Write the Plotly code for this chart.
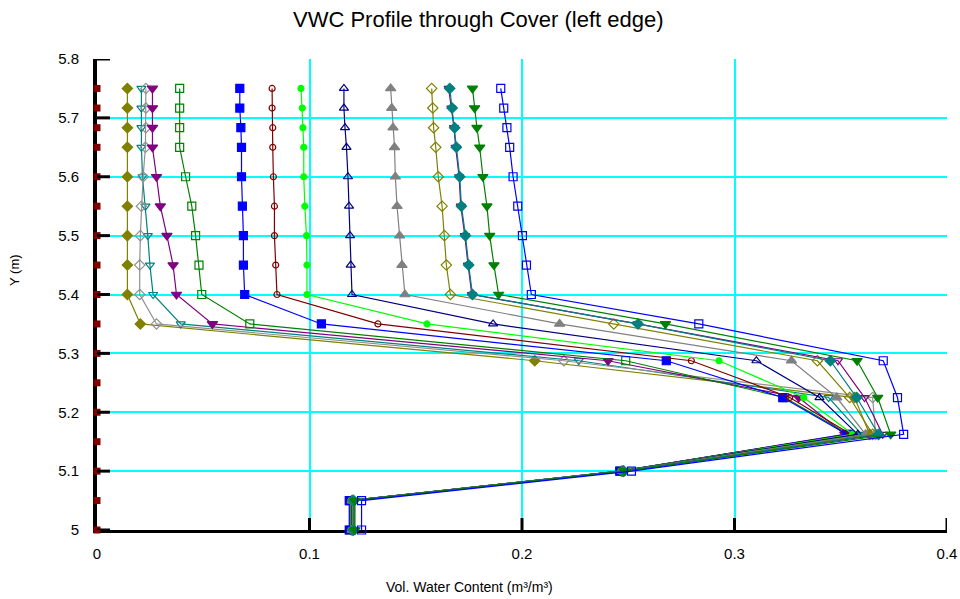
import plotly.graph_objects as go

# Elevation of the profile nodes (m)
elev = [5.75, 5.7167, 5.6833, 5.65, 5.6, 5.55, 5.5, 5.45, 5.4,
        5.35, 5.2875, 5.225, 5.1625, 5.1, 5.05, 5.0]

# Mesh node elevations marked along the left edge (m)
mesh_nodes = [5.75, 5.7167, 5.6833, 5.65, 5.6, 5.55, 5.5, 5.45, 5.4,
              5.35, 5.3, 5.25, 5.2, 5.15, 5.1, 5.05, 5.0]

# Volumetric water content profiles (m3/m3), one list per saved time
vwc_01 = [0.0143, 0.0143, 0.0143, 0.0143, 0.0143, 0.0143, 0.0143, 0.0143, 0.0143,
          0.0204, 0.2060, 0.3565, 0.3636, 0.2470, 0.1200, 0.1200]
vwc_02 = [0.0209, 0.0209, 0.0209, 0.0209, 0.0214, 0.0228, 0.0239, 0.0249, 0.0264,
          0.0394, 0.2267, 0.3443, 0.3599, 0.2472, 0.1197, 0.1197]
vwc_03 = [0.0230, 0.0230, 0.0230, 0.0228, 0.0217, 0.0209, 0.0204, 0.0201, 0.0201,
          0.0280, 0.2197, 0.3650, 0.3664, 0.2478, 0.1205, 0.1205]
vwc_04 = [0.0261, 0.0261, 0.0261, 0.0261, 0.0280, 0.0298, 0.0329, 0.0358, 0.0374,
          0.0543, 0.2405, 0.3302, 0.3519, 0.2466, 0.1195, 0.1195]
vwc_05 = [0.0389, 0.0389, 0.0389, 0.0389, 0.0417, 0.0446, 0.0464, 0.0480, 0.0493,
          0.0719, 0.2488, 0.3236, 0.3537, 0.2462, 0.1190, 0.1190]
vwc_06 = [0.0672, 0.0672, 0.0677, 0.0680, 0.0680, 0.0684, 0.0689, 0.0689, 0.0695,
          0.1056, 0.2679, 0.3227, 0.3528, 0.2460, 0.1187, 0.1187]
vwc_07 = [0.0824, 0.0824, 0.0827, 0.0827, 0.0830, 0.0835, 0.0835, 0.0841, 0.0847,
          0.1322, 0.2797, 0.3260, 0.3547, 0.2463, 0.1193, 0.1193]
vwc_08 = [0.0960, 0.0966, 0.0969, 0.0973, 0.0973, 0.0978, 0.0986, 0.0988, 0.0988,
          0.1553, 0.2927, 0.3326, 0.3556, 0.2465, 0.1195, 0.1195]
vwc_09 = [0.1162, 0.1162, 0.1167, 0.1174, 0.1181, 0.1186, 0.1191, 0.1194, 0.1200,
          0.1864, 0.3103, 0.3400, 0.3580, 0.2468, 0.1198, 0.1198]
vwc_10 = [0.1382, 0.1387, 0.1393, 0.1400, 0.1404, 0.1412, 0.1424, 0.1435, 0.1449,
          0.2177, 0.3268, 0.3481, 0.3617, 0.2472, 0.1201, 0.1201]
vwc_11 = [0.1575, 0.1580, 0.1584, 0.1594, 0.1606, 0.1624, 0.1635, 0.1644, 0.1663,
          0.2432, 0.3390, 0.3542, 0.3650, 0.2475, 0.1204, 0.1204]
vwc_12 = [0.1655, 0.1668, 0.1680, 0.1688, 0.1704, 0.1712, 0.1731, 0.1746, 0.1764,
          0.2543, 0.3487, 0.3612, 0.3697, 0.2480, 0.1210, 0.1210]
vwc_13 = [0.1660, 0.1671, 0.1683, 0.1691, 0.1707, 0.1715, 0.1734, 0.1749, 0.1767,
          0.2546, 0.3451, 0.3575, 0.3678, 0.2478, 0.1207, 0.1207]
vwc_14 = [0.1767, 0.1777, 0.1788, 0.1801, 0.1816, 0.1835, 0.1848, 0.1868, 0.1890,
          0.2675, 0.3577, 0.3674, 0.3735, 0.2484, 0.1214, 0.1214]
vwc_15 = [0.1900, 0.1914, 0.1929, 0.1942, 0.1958, 0.1980, 0.2002, 0.2021, 0.2044,
          0.2832, 0.3700, 0.3767, 0.3796, 0.2515, 0.1245, 0.1245]

x_ticks = [0, 0.1, 0.2, 0.3, 0.4]
x_labels = ["0", "0.1", "0.2", "0.3", "0.4"]
y_ticks = [5.0, 5.1, 5.2, 5.3, 5.4, 5.5, 5.6, 5.7, 5.8]
y_labels = ["5", "5.1", "5.2", "5.3", "5.4", "5.5", "5.6", "5.7", "5.8"]

profiles = [vwc_01, vwc_02, vwc_03, vwc_04, vwc_05, vwc_06, vwc_07, vwc_08,
            vwc_09, vwc_10, vwc_11, vwc_12, vwc_13, vwc_14, vwc_15]
colors = ["#808000", "#008080", "#909090", "#800080", "#008000", "#0000FF",
          "#800000", "#00FF00", "#000080", "#808080", "#808000", "#800080",
          "#008080", "#008000", "#0000FF"]
symbols = ["diamond", "triangle-down-open", "diamond-open", "triangle-down",
           "square-open", "square", "circle-open", "circle", "triangle-up-open",
           "triangle-up", "diamond-open", "triangle-down-open", "diamond",
           "triangle-down", "square-open"]
sizes = [8, 8, 8, 9, 8, 8, 6, 6, 8, 9, 8, 8, 8, 9, 8]

fig = go.Figure()

for vals, col, sym, sz in zip(profiles, colors, symbols, sizes):
    fig.add_trace(go.Scatter(
        x=vals, y=elev, mode="lines+markers",
        line=dict(color=col, width=1.2),
        marker=dict(symbol=sym, size=sz, color=col,
                    line=dict(color=col, width=1.2)),
        showlegend=False, cliponaxis=False,
    ))

# Mesh nodes on the left boundary
fig.add_trace(go.Scatter(
    x=[0] * len(mesh_nodes), y=mesh_nodes, mode="markers",
    marker=dict(symbol="square", size=7, color="#800000"),
    showlegend=False, cliponaxis=False,
))

# Tick marks crossing the axis lines
shapes = []
for yv in y_ticks:
    shapes.append(dict(type="line", xref="x", yref="y", xsizemode="pixel",
                       xanchor=0, x0=-11, x1=13, y0=yv, y1=yv,
                       line=dict(color="black", width=3), layer="above"))
for xv in x_ticks[1:]:
    shapes.append(dict(type="line", xref="x", yref="y", ysizemode="pixel",
                       yanchor=5.0, y0=-11, y1=12, x0=xv, x1=xv,
                       line=dict(color="black", width=3), layer="above"))

fig.update_layout(
    width=960, height=599,
    margin=dict(l=97, r=13, t=59, b=69),
    paper_bgcolor="white", plot_bgcolor="white",
    font=dict(family="Liberation Sans, Arial, sans-serif", color="black"),
    shapes=shapes,
    annotations=[
        dict(text="VWC Profile through Cover (left edge)", xref="paper", yref="paper",
             x=(478 - 97) / 850, y=1 + (59 - 19) / 471, xanchor="center", yanchor="middle",
             showarrow=False, font=dict(size=22)),
        dict(text="Vol. Water Content (m³/m³)", xref="paper", yref="paper",
             x=(469 - 97) / 850, y=-(587 - 530) / 471, xanchor="center", yanchor="middle",
             showarrow=False, font=dict(size=14)),
        dict(text="Y (m)", xref="paper", yref="paper", textangle=-90,
             x=-(97 - 14) / 850, y=(530 - 270) / 471, xanchor="center", yanchor="middle",
             showarrow=False, font=dict(size=13)),
    ],
)

fig.update_xaxes(
    range=[0, 0.4], tickvals=x_ticks, ticktext=x_labels, ticks="",
    showgrid=True, gridcolor="#00FFFF", gridwidth=1.5, zeroline=False,
    showline=True, linecolor="black", linewidth=3, layer="below traces",
    tickfont=dict(size=15), ticklabelstandoff=8, automargin=False,
)
fig.update_yaxes(
    range=[5.0, 5.8], tickvals=y_ticks, ticktext=y_labels, ticks="",
    showgrid=True, gridcolor="#00FFFF", gridwidth=1.5, zeroline=False,
    showline=True, linecolor="black", linewidth=4, layer="below traces",
    tickfont=dict(size=15), ticklabelstandoff=11, automargin=False,
)

fig.write_html("out.html")
